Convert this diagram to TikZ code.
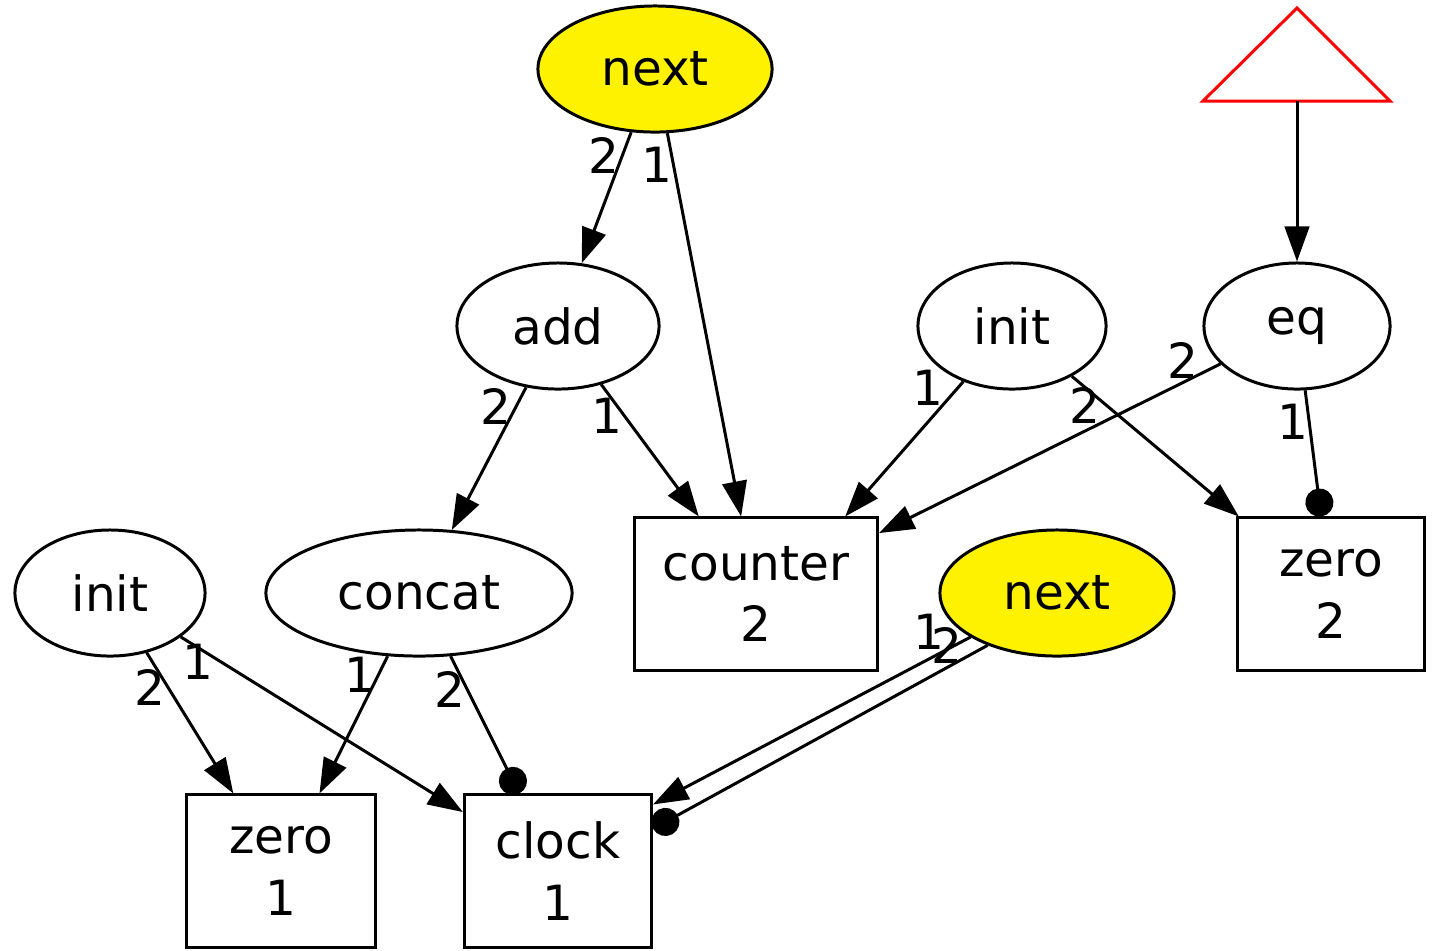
\documentclass[tikz,border=0pt]{standalone}
\usepackage{fontspec}
\setmainfont{DejaVu Sans}
\usetikzlibrary{arrows.meta}
\usetikzlibrary{shapes.geometric}

\tikzset{
	op/.style={draw, ellipse, line width=0.85pt, inner sep=0pt, minimum height=1.26cm, font=\fontsize{13.8}{17.5}\selectfont},
	reg/.style={draw, rectangle, line width=0.85pt, inner sep=0pt, minimum height=1.52cm, align=center, font=\fontsize{13.8}{17.5}\selectfont},
	lab/.style={inner sep=0pt, font=\fontsize{13.8}{17.5}\selectfont},
	arr/.style={-{Triangle[length=10pt,width=7pt]}, line width=0.85pt},
	dotarr/.style={-{Circle[length=8pt]}, line width=0.85pt},
}

\begin{document}
\begin{tikzpicture}[x=0.01cm, y=-0.01cm]

	\useasboundingbox (0,0) rectangle (1439,950);

	%operations
	\node[op, fill=yellow, minimum width=2.34cm] (next1) at (655,69) {next};
	\node[op, minimum width=2.02cm] (add) at (558,326) {add};
	\node[op, minimum width=1.88cm] (init2) at (1012,326) {init};
	\node[op, minimum width=1.86cm] (eq) at (1297,326) {eq};
	\node[op, minimum width=1.90cm] (init1) at (110,593) {init};
	\node[op, minimum width=3.06cm] (concat) at (419,593) {concat};
	\node[op, fill=yellow, minimum width=2.34cm] (next2) at (1057,593) {next};

	%registers
	\node[reg, minimum width=2.43cm] (counter) at (756,594) {counter\\2};
	\node[reg, minimum width=1.87cm] (zero2) at (1331,594) {zero\\2};
	\node[reg, minimum width=1.88cm] (zero1) at (281,871) {zero\\1};
	\node[reg, minimum width=1.87cm] (clock) at (558,871) {clock\\1};

	%output marker
	\draw[red, line width=0.85pt] (1203,101) -- (1297,8) -- (1390,101) -- cycle;
	\coordinate (top) at (1297,101);

	%edges
	\draw[arr] (top) -- (eq);
	\draw[arr] (next1) -- (add);
	\draw[arr] (next1) -- (counter);
	\draw[arr] (add) -- (concat);
	\draw[arr] (add) -- (counter);
	\draw[arr] (init2) -- (counter.41);
	\draw[arr] (init2) -- (zero2);
	\draw[arr] (eq) -- (counter);
	\draw[dotarr] (eq) -- (zero2);
	\draw[arr] (init1) -- (zero1);
	\draw[arr] (init1) -- (clock);
	\draw[arr] (concat) -- (zero1);
	\draw[dotarr] (concat) -- (clock);
	\draw[arr] (next2.207) -- (clock.35);
	\draw[dotarr] (next2.217) -- (clock.24);

	%port numbers
	\node[lab] (p1) at (604,155) {2};
	\node[lab] (p2) at (657,165) {1};
	\node[lab] (p3) at (496,406) {2};
	\node[lab] (p4) at (607,416) {1};
	\node[lab] (p5) at (928,388) {1};
	\node[lab] (p6) at (1085,405) {2};
	\node[lab] (p7) at (1183,360) {2};
	\node[lab] (p8) at (1293,422) {1};
	\node[lab] (p9) at (150,687) {2};
	\node[lab] (p10) at (198,662) {1};
	\node[lab] (p11) at (360,675) {1};
	\node[lab] (p12) at (450,689) {2};
	\node[lab] (p13) at (929,632) {1};
	\node[lab] (p14) at (947,645) {2};

\end{tikzpicture}
\end{document}
